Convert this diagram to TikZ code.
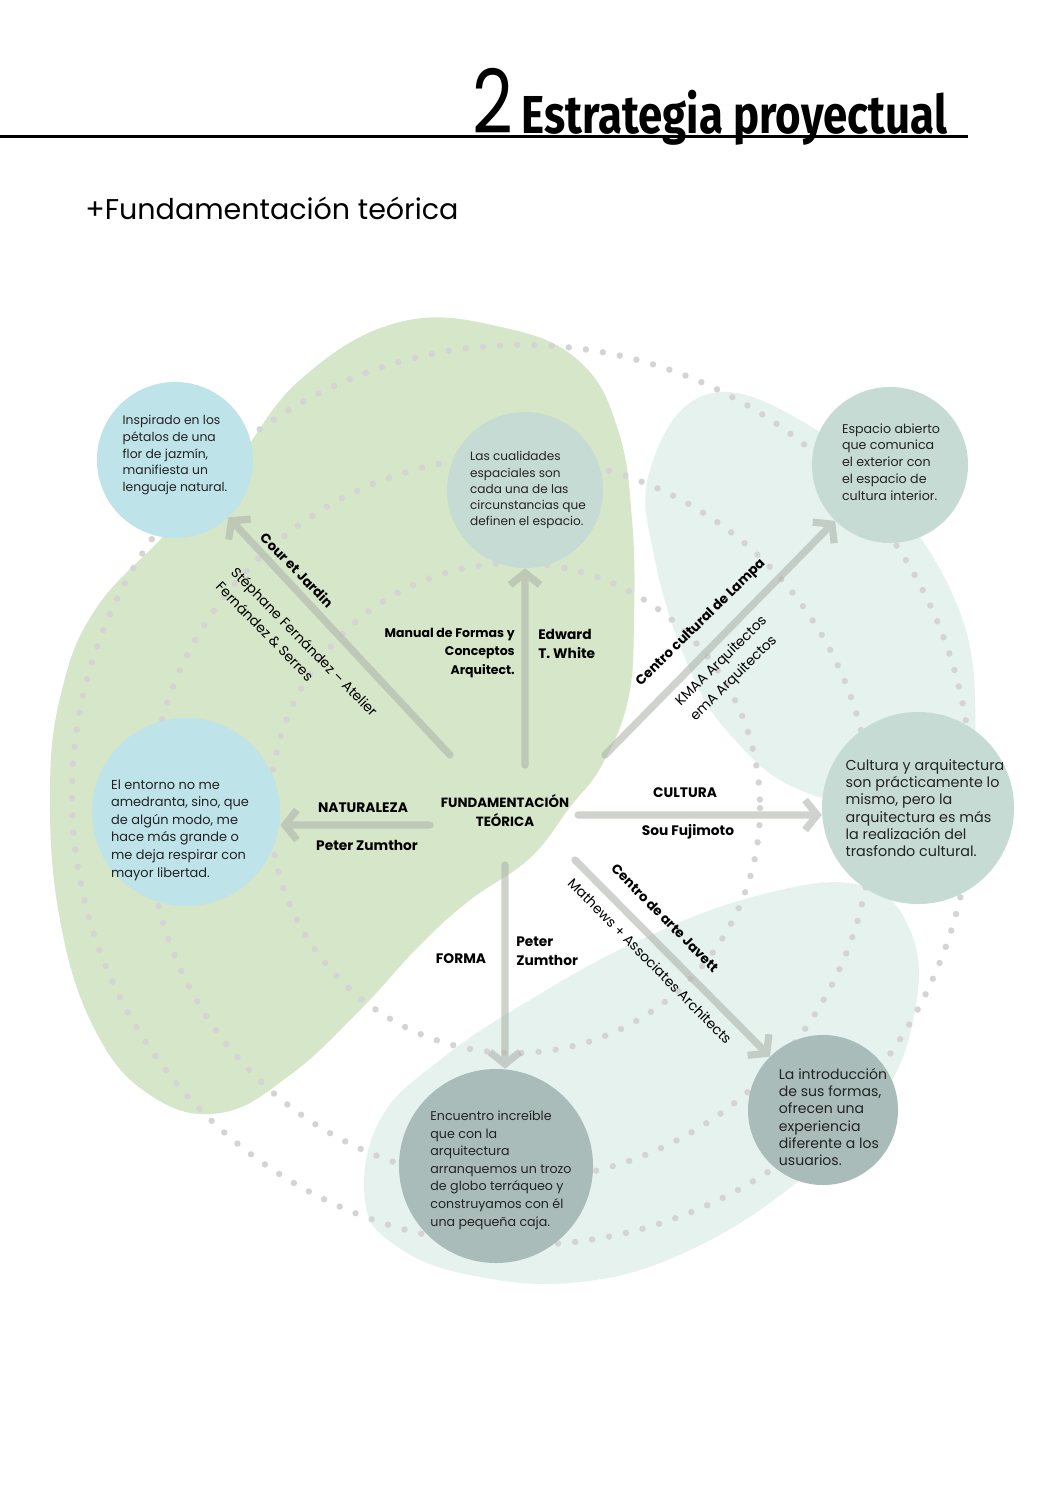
\documentclass[tikz,border=0pt]{standalone}
\usepackage{fontspec}
\setmainfont{Poppins}
\newfontfamily\titlefont[FakeStretch=0.82]{Fira Sans}
\newfontfamily\numfont[FakeStretch=0.8]{Poppins}
\usetikzlibrary{arrows.meta, positioning}
\definecolor{BlobGreen}{RGB}{214,230,200}
\definecolor{BlobTeal}{RGB}{229,242,238}
\definecolor{SkyBlue}{RGB}{190,227,233}
\definecolor{SageGrey}{RGB}{199,219,213}
\definecolor{SlateGrey}{RGB}{170,188,185}
\definecolor{ArrowGrey}{RGB}{175,180,172}
\definecolor{DotGrey}{RGB}{212,212,212}
\definecolor{InkGrey}{RGB}{35,35,35}

\tikzset{
  bubble/.style={circle, inner sep=0pt},
  bubbletext/.style={align=left, inner sep=0pt, text=InkGrey},
  dotring/.style={DotGrey, line width=0.16cm, line cap=round, dash pattern=on 0pt off 0.43cm},
  link/.style={ArrowGrey, line width=0.18cm, line cap=round,
    -{Straight Barb[length=0.3cm, width=0.75cm, line width=0.18cm]}},
  tag/.style={font=\fontsize{9.8}{13.5}\selectfont\bfseries, inner sep=0pt},
  slopetag/.style={font=\fontsize{9.5}{13.5}\selectfont\bfseries, inner sep=0pt},
  author/.style={font=\fontsize{9.8}{15}\selectfont, inner sep=0pt, align=left},
}

\begin{document}
\begin{tikzpicture}[x=0.025cm, y=-0.025cm]
  \useasboundingbox (0,0) rectangle (1058,1497);
  \fill[white] (0,0) rectangle (1058,1497);

  % Header
  \draw[line width=0.075cm] (0,137) -- (968,137);
  \node[anchor=base west, inner sep=0pt, font=\numfont\fontsize{63}{63}\selectfont] (num) at (472,134) {2};
  \node[anchor=base west, inner sep=0pt, font=\titlefont\bfseries\fontsize{38}{38}\selectfont] (title) at (521,134) {Estrategia proyectual};
  \node[anchor=base west, inner sep=0pt, font=\fontsize{20.3}{21}\selectfont] (subtitle) at (85,220) {+Fundamentación teórica};

  % Background blobs
  \fill[BlobGreen] plot[smooth cycle, tension=0.7] coordinates {
    (400,322) (505,328) (580,362) (618,430) (632,520) (634,620) (628,700)
    (602,765) (570,807) (530,858) (470,900) (420,945) (360,1010) (290,1075)
    (220,1113) (150,1095) (95,1030) (60,920) (50,790) (62,690) (95,610)
    (160,540) (230,470) (300,380)};
  \fill[BlobTeal] plot[smooth cycle, tension=0.7] coordinates {
    (705,395) (800,420) (890,500) (955,600) (975,700) (960,780) (890,805)
    (800,790) (735,740) (690,670) (655,560) (650,470)};
  \fill[BlobTeal] plot[smooth cycle, tension=0.7] coordinates {
    (365,1200) (380,1120) (440,1060) (530,1000) (640,940) (760,895) (860,885)
    (910,930) (915,1010) (880,1100) (800,1180) (690,1250) (580,1282)
    (470,1275) (395,1245)};

  % Dotted rings
  \draw[dotring] (522,795) circle (450);
  \draw[dotring] (510,819) circle (362);
  \draw[dotring] (515,808) circle (245);

  % Bubbles
  \node[bubble, fill=SkyBlue, minimum size=3.9cm] (jazmin) at (175,460) {};
  \node[bubble, fill=SageGrey, minimum size=3.9cm] (espacio) at (525,490) {};
  \node[bubble, fill=SageGrey, minimum size=3.9cm] (abierto) at (890,465) {};
  \node[bubble, fill=SkyBlue, minimum size=4.7cm] (entorno) at (186,812) {};
  \node[bubble, fill=SageGrey, minimum size=4.8cm] (cultura) at (918,808) {};
  \node[bubble, fill=SlateGrey, minimum size=4.85cm] (caja) at (496,1166) {};
  \node[bubble, fill=SlateGrey, minimum size=3.75cm] (usuarios) at (823,1110) {};

  \node[bubbletext, font=\fontsize{8.8}{11.8}\selectfont] (jazmintxt) at (175,455) {Inspirado en los\\pétalos de una\\flor de jazmín,\\manifiesta un\\lenguaje natural.};
  \node[bubbletext, font=\fontsize{8.6}{11.4}\selectfont] (espaciotxt) at (528,490) {Las cualidades\\espaciales son\\cada una de las\\circunstancias que\\definen el espacio.};
  \node[bubbletext, font=\fontsize{9}{12}\selectfont] (abiertotxt) at (891,462) {Espacio abierto\\que comunica\\el exterior con\\el espacio de\\cultura interior.};
  \node[bubbletext, font=\fontsize{9.2}{12.5}\selectfont] (entornotxt) at (180,830) {El entorno no me\\amedranta, sino, que\\de algún modo, me\\hace más grande o\\me deja respirar con\\mayor libertad.};
  \node[bubbletext, font=\fontsize{10.2}{12.3}\selectfont] (culturatxt) at (925,808) {Cultura y arquitectura\\son prácticamente lo\\mismo, pero la\\arquitectura es más\\la realización del\\trasfondo cultural.};
  \node[bubbletext, font=\fontsize{9}{12.5}\selectfont] (cajatxt) at (501,1170) {Encuentro increíble\\que con la\\arquitectura\\arranquemos un trozo\\de globo terráqueo y\\construyamos con él\\una pequeña caja.};
  \node[bubbletext, font=\fontsize{10}{12.3}\selectfont] (usuariostxt) at (833,1117) {La introducción\\de sus formas,\\ofrecen una\\experiencia\\diferente a los\\usuarios.};

  % Arrows
  \coordinate (tJ) at (450,755);
  \coordinate (tE) at (525,765);
  \coordinate (tA) at (605,755);
  \coordinate (tN) at (430,825);
  \coordinate (tC) at (578,815);
  \coordinate (tF) at (505,865);
  \coordinate (tU) at (575,860);
  \begin{scope}[transparency group, opacity=0.6]
    \draw[link] (tJ) -- (jazmin);
    \draw[link] (tE) -- (espacio);
    \draw[link] (tA) -- (abierto);
    \draw[link] (tN) -- (tN -| entorno.east);
    \draw[link] (tC) -- (tC -| cultura.west);
    \draw[link] (tF) -- (tF |- caja.north);
    \draw[link] (tU) -- (usuarios);
  \end{scope}

  % Labels
  \node[tag, align=center, font=\fontsize{9.5}{13.5}\selectfont\bfseries] (fund) at (505,811) {FUNDAMENTACIÓN\\TEÓRICA};
  \node[tag, align=right, anchor=east, font=\fontsize{8.9}{13.2}\selectfont\bfseries] (manual) at (515,653) {Manual de Formas y\\Conceptos\\Arquitect.};
  \node[tag, align=left, anchor=west] (white) at (538,644) {Edward\\T. White};
  \node[tag] (natur) at (363,808) {NATURALEZA};
  \node[tag] (zumthorA) at (367,845) {Peter Zumthor};
  \node[tag] (cult) at (685,793) {CULTURA};
  \node[tag] (fujimoto) at (688,832) {Sou Fujimoto};
  \node[tag] (forma) at (461,959) {FORMA};
  \node[tag, align=left, anchor=west] (zumthorB) at (516,951) {Peter\\Zumthor};

  \node[slopetag, rotate=-45.6] (cour) at (297,570) {Cour et Jardin};
  \node[author, rotate=-45.6] (atelier) at (297,649) {Stéphane Fernández – Atelier\\Fernández \& Serres};
  \node[slopetag, rotate=44.5] (lampa) at (701,623) {Centro cultural de Lampa};
  \node[author, rotate=44.5] (kmaa) at (729,669) {KMAA Arquitectos\\emA Arquitectos};
  \node[slopetag, rotate=-45.4] (javett) at (665,918) {Centro de arte Javett};
  \node[author, rotate=-45.4] (mathews) at (650,961) {Mathews + Associates Architects};
\end{tikzpicture}
\end{document}
